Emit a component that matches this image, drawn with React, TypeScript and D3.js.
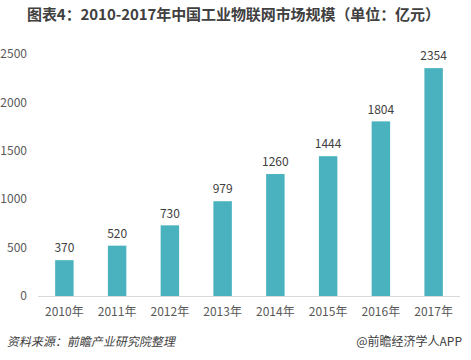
import React from "react";
import * as d3 from "d3";

const years = ["2010年", "2011年", "2012年", "2013年", "2014年", "2015年", "2016年", "2017年"];
const values = [370, 520, 730, 979, 1260, 1444, 1804, 2354];
const yTicks = [0, 500, 1000, 1500, 2000, 2500];

const W = 471;
const H = 360;
const FONT = "'Noto Sans CJK SC', sans-serif";

export default function App() {
  const x = d3.scaleBand<string>().domain(years).range([38, 460]).paddingInner(0.65).paddingOuter(0.325);
  const y = d3.scaleLinear().domain([0, 2500]).range([296, 54]);
  const bw = x.bandwidth();
  return (
    <svg width={W} height={H} style={{ position: "absolute", left: 0, top: 0, background: "#fff" }} fontFamily={FONT}>
      <text x={27} y={20} textAnchor="start" fontSize={15} fontWeight="bold" fill="#404040" textLength={413} lengthAdjust="spacing">
        图表4：2010-2017年中国工业物联网市场规模（单位：亿元）
      </text>
      {yTicks.map((t) => (
        <text key={t} x={27} y={y(t)} dy="0.35em" textAnchor="end" fontSize={12} fill="#595959">
          {t}
        </text>
      ))}
      <line x1={38} x2={460} y1={y(0) + 0.5} y2={y(0) + 0.5} stroke="#d9d9d9" strokeWidth={1} />
      {years.map((yr, i) => (
        <g key={yr}>
          <rect x={x(yr)} y={y(values[i])} width={bw} height={y(0) - y(values[i])} fill="#4AB2BE" />
          <text x={(x(yr) as number) + bw / 2} y={y(values[i]) - 12} dy="0.35em" textAnchor="middle" fontSize={12} fill="#404040">
            {values[i]}
          </text>
          <text x={(x(yr) as number) + bw / 2} y={312} dy="0.35em" textAnchor="middle" fontSize={12} fill="#595959">
            {yr}
          </text>
        </g>
      ))}
      <text x={8} y={342} dy="0.35em" fontSize={12} fill="#404040" transform="skewX(-12)" style={{ transformOrigin: "8px 342px", transformBox: "view-box" }}>
        资料来源：前瞻产业研究院整理
      </text>
      <text x={462} y={342} dy="0.35em" textAnchor="end" fontSize={12} fill="#404040">
        @前瞻经济学人APP
      </text>
    </svg>
  );
}
